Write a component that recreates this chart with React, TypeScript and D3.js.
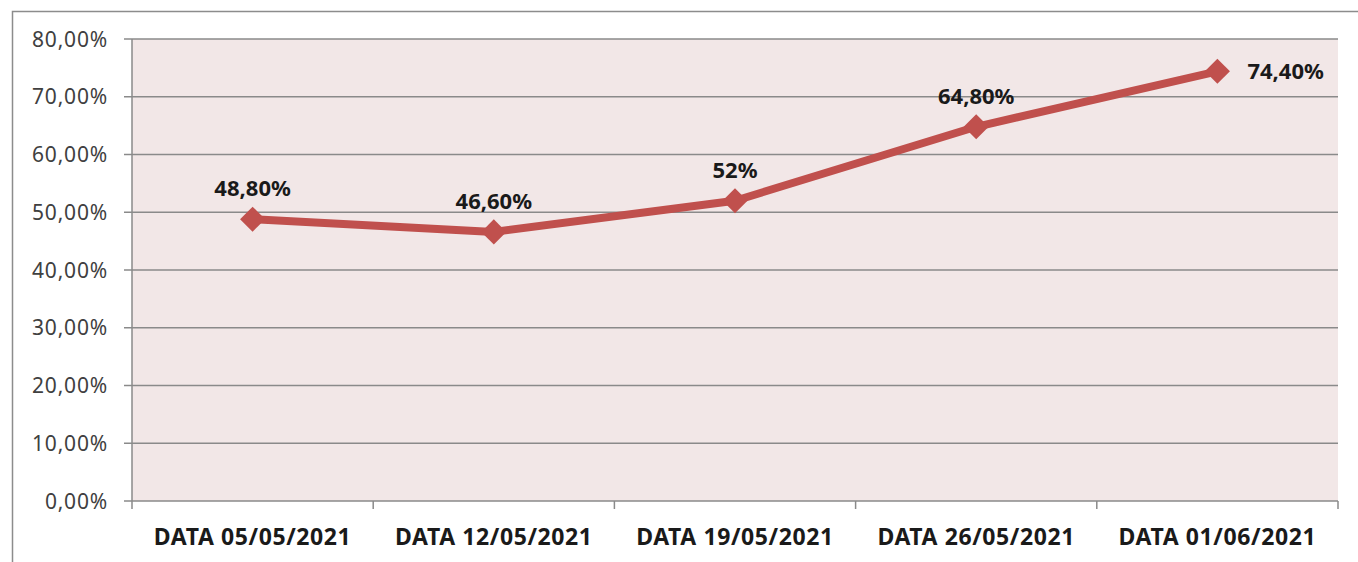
import React, { useEffect, useRef } from 'react';
import * as d3 from 'd3';

const categories = ['DATA 05/05/2021', 'DATA 12/05/2021', 'DATA 19/05/2021', 'DATA 26/05/2021', 'DATA 01/06/2021'];
const values = [48.8, 46.6, 52, 64.8, 74.4];
const valueLabels = ['48,80%', '46,60%', '52%', '64,80%', '74,40%'];
const yTicks = [0, 10, 20, 30, 40, 50, 60, 70, 80];

const W = 1358;
const H = 562;

const App = () => {
  const ref = useRef<SVGSVGElement>(null);

  useEffect(() => {
    const svg = d3.select(ref.current);
    svg.selectAll('*').remove();

    const left = 132, right = 1338, top = 39, bottom = 501;
    const font = '"Noto Sans", "Open Sans", sans-serif';

    // outer chart frame
    svg.append('path')
      .attr('d', `M12.5,${H} L12.5,11.5 L${W},11.5`)
      .attr('fill', 'none')
      .attr('stroke', '#8c8c8c')
      .attr('stroke-width', 1.5);

    const x = d3.scaleBand().domain(categories).range([left, right]);
    const y = d3.scaleLinear().domain([0, 80]).range([bottom, top]);

    // plot background
    svg.append('rect')
      .attr('x', left).attr('y', top)
      .attr('width', right - left).attr('height', bottom - top)
      .attr('fill', '#f2e7e7');

    // gridlines + y ticks
    yTicks.forEach(t => {
      svg.append('line')
        .attr('x1', left - 8).attr('x2', right)
        .attr('y1', y(t)).attr('y2', y(t))
        .attr('stroke', '#8a8a8a').attr('stroke-width', 1.5);
      svg.append('text')
        .attr('x', 108).attr('y', y(t))
        .attr('dy', '0.36em')
        .attr('text-anchor', 'end')
        .style('font-family', font)
        .style('font-size', '21px')
        .style('letter-spacing', '0.8px')
        .attr('fill', '#404040')
        .text(d3.format('.2f')(t).replace('.', ',') + '%');
    });

    // y axis line
    svg.append('line')
      .attr('x1', left).attr('x2', left)
      .attr('y1', top).attr('y2', bottom)
      .attr('stroke', '#8a8a8a').attr('stroke-width', 1.5);

    // x axis ticks at category boundaries
    const bounds = categories.map(c => x(c)!).concat([right]);
    bounds.forEach(b => {
      svg.append('line')
        .attr('x1', b).attr('x2', b)
        .attr('y1', bottom).attr('y2', bottom + 8)
        .attr('stroke', '#8a8a8a').attr('stroke-width', 1.5);
    });

    categories.forEach(c => {
      svg.append('text')
        .attr('x', x(c)! + x.bandwidth() / 2)
        .attr('y', 545)
        .attr('text-anchor', 'middle')
        .style('font-family', font)
        .style('font-size', '23px')
        .style('letter-spacing', '0.6px')
        .style('font-weight', 'bold')
        .attr('fill', '#1a1a1a')
        .text(c);
    });

    const cx = (i: number) => x(categories[i])! + x.bandwidth() / 2;

    const line = d3.line<number>()
      .x((_, i) => cx(i))
      .y(d => y(d));

    svg.append('path')
      .datum(values)
      .attr('d', line)
      .attr('fill', 'none')
      .attr('stroke', '#c0504d')
      .attr('stroke-width', 8)
      .attr('stroke-linejoin', 'round');

    const diamond = d3.symbol().type(d3.symbolDiamond2).size(400);
    values.forEach((v, i) => {
      svg.append('path')
        .attr('d', diamond()!)
        .attr('transform', `translate(${cx(i)},${y(v)})`)
        .attr('fill', '#c0504d');

      const last = i === values.length - 1;
      svg.append('text')
        .attr('x', last ? cx(i) + 30 : cx(i))
        .attr('y', last ? y(v) : y(v) - 23)
        .attr('dy', last ? '0.36em' : 0)
        .attr('text-anchor', last ? 'start' : 'middle')
        .style('font-family', font)
        .style('font-size', '22px')
        .style('font-weight', 'bold')
        .attr('fill', '#1a1a1a')
        .text(valueLabels[i]);
    });
  }, []);

  return (
    <div style={{ position: 'absolute', left: 0, top: 0, background: '#fff' }}>
      <svg ref={ref} width={W} height={H} style={{ display: 'block' }} />
    </div>
  );
};

export default App;
